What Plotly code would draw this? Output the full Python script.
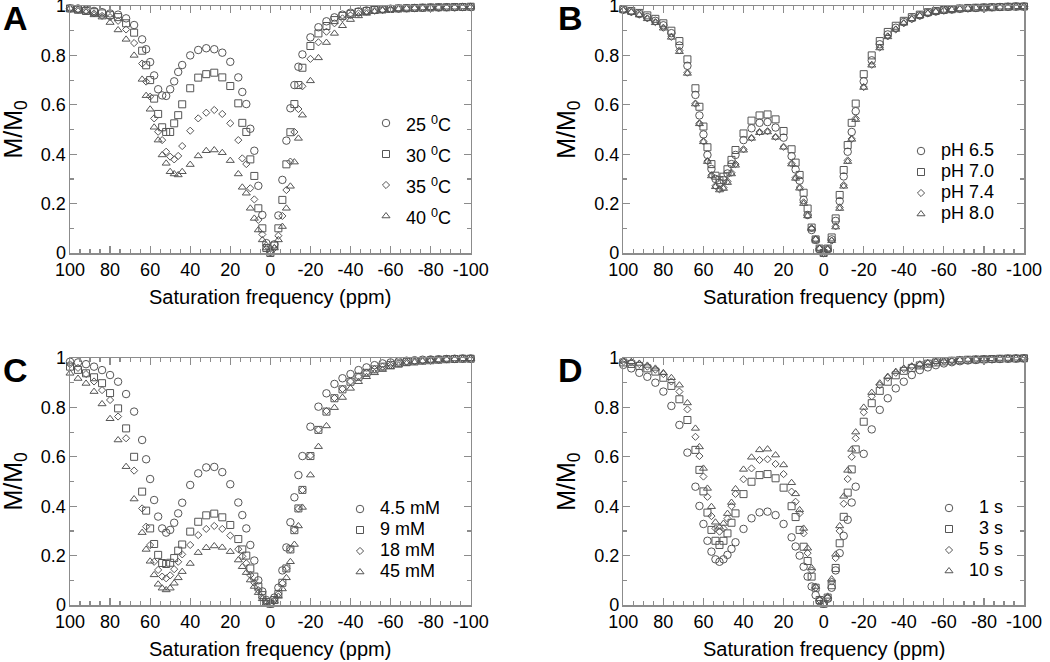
import plotly.graph_objects as go

# ---------------- data ----------------
FREQ = [100, 96, 92, 88, 84, 80, 76, 72, 68,
        64, 62, 60, 58, 56, 54, 52, 50, 48, 46, 44,
        40, 36, 32, 28, 24, 20, 16,
        14, 12, 10, 8, 6, 4, 2, 0, -2, -4, -6, -8, -10, -12, -14, -16,
        -20, -24, -28, -32, -36, -40, -44, -48, -52, -56, -60, -64, -68, -72,
        -76, -80, -84, -88, -92, -96, -100]

# Panel A: temperature
A_25C = [0.99, 0.99, 0.985, 0.98, 0.975, 0.97, 0.965, 0.95, 0.923,
         0.865, 0.825, 0.773, 0.719, 0.663, 0.638, 0.636, 0.663, 0.695, 0.733, 0.761,
         0.80, 0.822, 0.829, 0.825, 0.811, 0.774, 0.711,
         0.652, 0.603, 0.503, 0.414, 0.272, 0.154, 0.04, 0.005, 0.035, 0.152, 0.296, 0.455, 0.586, 0.68, 0.754, 0.804,
         0.873, 0.914, 0.938, 0.954, 0.965, 0.973, 0.978, 0.982, 0.985, 0.987, 0.989, 0.99, 0.991,
         0.992, 0.993, 0.994, 0.994, 0.995, 0.995, 0.996, 0.996]
A_30C = [0.99, 0.985, 0.98, 0.975, 0.97, 0.963, 0.955, 0.93, 0.892,
         0.819, 0.76, 0.70, 0.625, 0.563, 0.509, 0.49, 0.49, 0.525, 0.558, 0.602,
         0.667, 0.71, 0.724, 0.73, 0.711, 0.676, 0.606,
         0.527, 0.49, 0.379, 0.312, 0.181, 0.10, 0.02, 0.0, 0.03, 0.10, 0.215, 0.359, 0.489, 0.603, 0.68, 0.75,
         0.838, 0.889, 0.919, 0.943, 0.96, 0.968, 0.976, 0.98, 0.984, 0.986, 0.988, 0.99, 0.991,
         0.992, 0.993, 0.994, 0.995, 0.995, 0.996, 0.996, 0.997]
A_35C = [0.99, 0.985, 0.98, 0.97, 0.96, 0.955, 0.94, 0.905, 0.85,
         0.767, 0.694, 0.633, 0.545, 0.491, 0.457, 0.41, 0.39, 0.379, 0.393, 0.433,
         0.495, 0.545, 0.568, 0.579, 0.563, 0.525, 0.457,
         0.383, 0.36, 0.262, 0.217, 0.134, 0.075, 0.03, 0.005, 0.02, 0.07, 0.15, 0.255, 0.37, 0.49, 0.583, 0.675,
         0.786, 0.853, 0.896, 0.93, 0.95, 0.962, 0.97, 0.977, 0.981, 0.984, 0.987, 0.989, 0.99,
         0.991, 0.992, 0.993, 0.994, 0.995, 0.995, 0.996, 0.996]
A_40C = [0.99, 0.98, 0.975, 0.964, 0.955, 0.933, 0.903, 0.865, 0.80,
         0.703, 0.637, 0.582, 0.509, 0.457, 0.397, 0.363, 0.329, 0.320, 0.316, 0.329,
         0.358, 0.393, 0.414, 0.417, 0.406, 0.374, 0.320,
         0.266, 0.242, 0.181, 0.14, 0.093, 0.053, 0.02, 0.0, 0.02, 0.053, 0.107, 0.181, 0.27, 0.368, 0.464, 0.558,
         0.697, 0.79, 0.852, 0.889, 0.92, 0.945, 0.96, 0.97, 0.977, 0.982, 0.985, 0.988, 0.99,
         0.991, 0.992, 0.993, 0.994, 0.995, 0.995, 0.996, 0.996]

# Panel B: pH
B_PH65 = [0.985, 0.978, 0.968, 0.955, 0.94, 0.922, 0.89, 0.84, 0.758,
          0.64, 0.557, 0.48, 0.397, 0.34, 0.30, 0.284, 0.295, 0.322, 0.36, 0.397,
          0.457, 0.505, 0.527, 0.53, 0.508, 0.467, 0.392,
          0.338, 0.293, 0.215, 0.154, 0.093, 0.053, 0.015, 0.0, 0.015, 0.055, 0.13, 0.21, 0.31, 0.41, 0.49, 0.574,
          0.695, 0.78, 0.845, 0.885, 0.912, 0.935, 0.95, 0.962, 0.972, 0.978, 0.983, 0.986, 0.989,
          0.991, 0.992, 0.994, 0.995, 0.996, 0.997, 0.998, 0.998]
B_PH70 = [0.987, 0.98, 0.972, 0.962, 0.948, 0.93, 0.90, 0.858, 0.784,
          0.667, 0.592, 0.512, 0.428, 0.36, 0.313, 0.295, 0.309, 0.339, 0.377, 0.417,
          0.484, 0.536, 0.557, 0.561, 0.541, 0.494, 0.42,
          0.366, 0.316, 0.244, 0.18, 0.103, 0.055, 0.018, 0.0, 0.018, 0.063, 0.14, 0.235, 0.336, 0.437, 0.527, 0.605,
          0.724, 0.80, 0.858, 0.895, 0.92, 0.94, 0.955, 0.965, 0.975, 0.98, 0.984, 0.987, 0.99,
          0.992, 0.993, 0.994, 0.995, 0.996, 0.997, 0.998, 0.998]
B_PH74 = [0.983, 0.975, 0.965, 0.95, 0.935, 0.912, 0.875, 0.82, 0.73,
          0.605, 0.525, 0.452, 0.372, 0.315, 0.272, 0.258, 0.265, 0.29, 0.325, 0.36,
          0.42, 0.466, 0.49, 0.493, 0.47, 0.43, 0.362,
          0.305, 0.265, 0.205, 0.152, 0.10, 0.055, 0.018, 0.0, 0.015, 0.05, 0.108, 0.185, 0.275, 0.375, 0.462, 0.545,
          0.672, 0.762, 0.832, 0.877, 0.905, 0.93, 0.947, 0.96, 0.97, 0.977, 0.982, 0.985, 0.988,
          0.99, 0.992, 0.993, 0.994, 0.995, 0.996, 0.997, 0.997]
B_PH80 = [0.983, 0.975, 0.963, 0.948, 0.932, 0.91, 0.873, 0.815, 0.727,
          0.603, 0.523, 0.45, 0.37, 0.312, 0.268, 0.255, 0.261, 0.285, 0.32, 0.355,
          0.416, 0.464, 0.487, 0.49, 0.468, 0.428, 0.36,
          0.302, 0.262, 0.20, 0.15, 0.10, 0.055, 0.018, 0.0, 0.015, 0.05, 0.105, 0.18, 0.27, 0.37, 0.46, 0.54,
          0.67, 0.76, 0.83, 0.875, 0.905, 0.93, 0.947, 0.96, 0.97, 0.977, 0.982, 0.985, 0.988,
          0.99, 0.992, 0.993, 0.994, 0.995, 0.996, 0.997, 0.997]

# Panel C: concentration
C_4_5MM = [0.985, 0.982, 0.975, 0.965, 0.951, 0.931, 0.904, 0.854, 0.783,
           0.668, 0.59, 0.51, 0.425, 0.358, 0.31, 0.293, 0.304, 0.333, 0.371, 0.414,
           0.486, 0.533, 0.557, 0.559, 0.538, 0.489, 0.415,
           0.364, 0.31, 0.243, 0.18, 0.10, 0.055, 0.02, 0.005, 0.03, 0.07, 0.14, 0.233, 0.335, 0.436, 0.526, 0.603,
           0.722, 0.803, 0.857, 0.895, 0.918, 0.935, 0.951, 0.962, 0.971, 0.978, 0.982, 0.986, 0.989,
           0.991, 0.993, 0.994, 0.995, 0.996, 0.997, 0.998, 0.998]
C_9MM = [0.965, 0.952, 0.938, 0.922, 0.898, 0.858, 0.796, 0.715, 0.60,
         0.459, 0.382, 0.31, 0.247, 0.203, 0.17, 0.166, 0.171, 0.19, 0.22, 0.245,
         0.297, 0.337, 0.363, 0.37, 0.355, 0.324, 0.267,
         0.225, 0.20, 0.148, 0.115, 0.075, 0.04, 0.012, 0.005, 0.02, 0.045, 0.09, 0.148, 0.225, 0.303, 0.391, 0.466,
         0.603, 0.709, 0.783, 0.837, 0.873, 0.904, 0.924, 0.94, 0.954, 0.965, 0.972, 0.978, 0.983,
         0.986, 0.989, 0.991, 0.993, 0.995, 0.996, 0.997, 0.997]
C_18MM = [0.975, 0.96, 0.935, 0.905, 0.87, 0.83, 0.763, 0.675, 0.544,
          0.391, 0.317, 0.243, 0.175, 0.142, 0.115, 0.108, 0.12, 0.145, 0.175, 0.205,
          0.243, 0.283, 0.308, 0.32, 0.308, 0.281, 0.226,
          0.197, 0.169, 0.121, 0.09, 0.06, 0.03, 0.01, 0.003, 0.02, 0.045, 0.088, 0.148, 0.225, 0.305, 0.39, 0.466,
          0.605, 0.71, 0.785, 0.838, 0.875, 0.905, 0.925, 0.941, 0.955, 0.965, 0.972, 0.978, 0.983,
          0.986, 0.989, 0.991, 0.993, 0.995, 0.996, 0.997, 0.997]
C_45MM = [0.938, 0.917, 0.897, 0.864, 0.814, 0.754, 0.668, 0.56, 0.429,
          0.293, 0.225, 0.177, 0.122, 0.084, 0.068, 0.061, 0.068, 0.088, 0.11, 0.135,
          0.168, 0.212, 0.232, 0.239, 0.233, 0.216, 0.182,
          0.155, 0.131, 0.101, 0.075, 0.05, 0.025, 0.008, 0.003, 0.015, 0.035, 0.065, 0.11, 0.175, 0.245, 0.32, 0.395,
          0.526, 0.641, 0.725, 0.799, 0.84, 0.877, 0.904, 0.924, 0.94, 0.953, 0.963, 0.971, 0.978,
          0.983, 0.987, 0.99, 0.992, 0.994, 0.996, 0.997, 0.997]

# Panel D: saturation time
D_1S = [0.972, 0.958, 0.94, 0.924, 0.90, 0.864, 0.806, 0.729, 0.617,
        0.479, 0.401, 0.328, 0.26, 0.216, 0.185, 0.175, 0.185, 0.203, 0.227, 0.254,
        0.308, 0.351, 0.375, 0.378, 0.364, 0.328, 0.274,
        0.237, 0.20, 0.155, 0.115, 0.075, 0.04, 0.015, 0.005, 0.025, 0.07, 0.14, 0.21, 0.28, 0.345, 0.415, 0.479,
        0.612, 0.711, 0.79, 0.837, 0.877, 0.904, 0.931, 0.951, 0.962, 0.971, 0.978, 0.983, 0.987,
        0.99, 0.992, 0.994, 0.995, 0.996, 0.997, 0.998, 0.998]
D_3S = [0.982, 0.976, 0.968, 0.958, 0.945, 0.92, 0.887, 0.833, 0.749,
        0.628, 0.547, 0.46, 0.374, 0.304, 0.26, 0.243, 0.26, 0.29, 0.333, 0.371,
        0.449, 0.499, 0.526, 0.53, 0.513, 0.475, 0.40,
        0.356, 0.304, 0.236, 0.178, 0.115, 0.07, 0.02, 0.005, 0.03, 0.08, 0.15, 0.25, 0.357, 0.455, 0.549, 0.63,
        0.742, 0.817, 0.867, 0.904, 0.93, 0.948, 0.96, 0.97, 0.977, 0.982, 0.986, 0.989, 0.991,
        0.993, 0.994, 0.995, 0.996, 0.997, 0.998, 0.998, 0.999]
D_5S = [0.985, 0.982, 0.975, 0.965, 0.953, 0.935, 0.905, 0.864, 0.792,
        0.681, 0.603, 0.52, 0.438, 0.36, 0.31, 0.297, 0.31, 0.35, 0.40, 0.45,
        0.509, 0.553, 0.587, 0.59, 0.571, 0.53, 0.459,
        0.418, 0.371, 0.29, 0.21, 0.14, 0.07, 0.02, 0.005, 0.03, 0.095, 0.19, 0.30, 0.41, 0.51, 0.60, 0.675,
        0.78, 0.845, 0.89, 0.92, 0.94, 0.955, 0.965, 0.973, 0.979, 0.984, 0.987, 0.99, 0.992,
        0.993, 0.995, 0.996, 0.997, 0.997, 0.998, 0.998, 0.999]
D_10S = [0.99, 0.985, 0.978, 0.97, 0.958, 0.94, 0.92, 0.89, 0.818,
         0.715, 0.64, 0.553, 0.472, 0.398, 0.335, 0.315, 0.33, 0.37, 0.415, 0.47,
         0.549, 0.598, 0.628, 0.631, 0.607, 0.567, 0.495,
         0.45, 0.385, 0.31, 0.23, 0.15, 0.075, 0.025, 0.005, 0.035, 0.105, 0.205, 0.32, 0.44, 0.545, 0.63, 0.70,
         0.80, 0.86, 0.898, 0.925, 0.945, 0.958, 0.967, 0.975, 0.98, 0.985, 0.988, 0.99, 0.992,
         0.994, 0.995, 0.996, 0.997, 0.998, 0.998, 0.999, 0.999]

TEMP_LABELS = ["25 <sup>0</sup>C", "30 <sup>0</sup>C", "35 <sup>0</sup>C", "40 <sup>0</sup>C"]
PH_LABELS = ["pH 6.5", "pH 7.0", "pH 7.4", "pH 8.0"]
CONC_LABELS = ["4.5 mM", "9 mM", "18 mM", "45 mM"]
TIME_LABELS = ["\u20071 s", "\u20073 s", "\u20075 s", "10 s"]

X_TICKS = [100, 80, 60, 40, 20, 0, -20, -40, -60, -80, -100]
X_TICK_TEXT = ["100", "80", "60", "40", "20", "0", "-20", "-40", "-60", "-80", "-100"]
Y_TICKS = [0, 0.2, 0.4, 0.6, 0.8, 1]
Y_TICK_TEXT = ["0", "0.2", "0.4", "0.6", "0.8", "1"]
PANEL_LETTERS = ["A", "B", "C", "D"]
X_TITLE = "Saturation frequency (ppm)"
Y_TITLE = "M/M<sub>0</sub>"

# ---------------- style / layout ----------------
W, H = 1050, 662
FONT = "Liberation Sans, Arial, Helvetica, sans-serif"
MARK = "#555555"
AXC = "#8c8c8c"
SYMBOLS = ["circle-open", "square-open", "diamond-open", "triangle-up-open"]
SIZES = [7.5, 7, 5.5, 7]

def px_x(p):
    return p / W

def px_y(p):
    return 1 - p / H

X_DOM = [[px_x(70), px_x(470.7)], [px_x(623.3), px_x(1024)]]
Y_DOM = [[px_y(253), px_y(6)], [px_y(605), px_y(358)]]

panels = [
    dict(series=[A_25C, A_30C, A_35C, A_40C], labels=TEMP_LABELS, col=0, row=0,
         leg=dict(sym_x=386, top_y=123, gap=31)),
    dict(series=[B_PH65, B_PH70, B_PH74, B_PH80], labels=PH_LABELS, col=1, row=0,
         leg=dict(sym_x=921, top_y=151, gap=21)),
    dict(series=[C_4_5MM, C_9MM, C_18MM, C_45MM], labels=CONC_LABELS, col=0, row=1,
         leg=dict(sym_x=360, top_y=509, gap=21)),
    dict(series=[D_1S, D_3S, D_5S, D_10S], labels=TIME_LABELS, col=1, row=1,
         leg=dict(sym_x=949, top_y=508, gap=21)),
]

fig = go.Figure()
layout = dict(template="none", width=W, height=H, margin=dict(l=0, r=0, t=0, b=0, pad=0),
              paper_bgcolor="white", plot_bgcolor="white",
              font=dict(family=FONT, color="black", size=18),
              showlegend=True)
annotations = []

for i, p in enumerate(panels):
    n = "" if i == 0 else str(i + 1)
    xa, ya = "x" + n, "y" + n
    legname = "legend" + n
    for k, (vals, lab) in enumerate(zip(p["series"], p["labels"])):
        fig.add_trace(go.Scatter(
            x=FREQ, y=vals, mode="markers", xaxis=xa, yaxis=ya,
            name='<span style="font-size:18px">' + lab + "</span>",
            legend=legname, cliponaxis=False,
            marker=dict(symbol=SYMBOLS[k], size=SIZES[k], color=MARK,
                        line=dict(color=MARK, width=1)),
            hoverinfo="skip"))
    common = dict(showline=True, linecolor=AXC, linewidth=1.5, mirror="ticks",
                  ticks="inside", tickcolor=AXC, tickwidth=1.2, ticklen=7,
                  showgrid=False, zeroline=False, automargin=False,
                  ticklabeloverflow="allow",
                  tickfont=dict(family=FONT, size=18, color="black"))
    layout["xaxis" + n] = dict(common, domain=X_DOM[p["col"]], anchor=ya,
                               range=[100, -100], tickmode="array",
                               tickvals=X_TICKS, ticktext=X_TICK_TEXT,
                               minor=dict(tickmode="linear", tick0=0, dtick=5,
                                          ticks="inside", ticklen=4,
                                          tickcolor=AXC, tickwidth=1.2))
    layout["yaxis" + n] = dict(common, domain=Y_DOM[p["row"]], anchor=xa,
                               range=[0, 1], tickmode="array",
                               tickvals=Y_TICKS, ticktext=Y_TICK_TEXT,
                               ticklabelstandoff=-1,
                               minor=dict(tickmode="linear", tick0=0, dtick=0.1,
                                          ticks="inside", ticklen=4,
                                          tickcolor=AXC, tickwidth=1.2))
    lg = p["leg"]
    fs = (lg["gap"] - 3) / 1.3
    top = lg["top_y"] - lg["gap"] / 2 - 5
    layout[legname] = dict(x=px_x(lg["sym_x"] - 20), y=px_y(top),
                           xanchor="left", yanchor="top",
                           bgcolor="rgba(0,0,0,0)", borderwidth=0,
                           font=dict(family=FONT, size=fs, color="black"),
                           tracegroupgap=0, itemclick=False)
    xl = 70 if p["col"] == 0 else 623.3
    xr = 470.7 if p["col"] == 0 else 1024
    yt = 6 if p["row"] == 0 else 358
    yb = 253 if p["row"] == 0 else 605
    letter_x = 15 if p["col"] == 0 else 570
    annotations.append(dict(text="<b>" + PANEL_LETTERS[i] + "</b>", xref="paper", yref="paper",
                            x=px_x(letter_x), y=px_y(yt + 12), xanchor="center", yanchor="middle",
                            showarrow=False, font=dict(family=FONT, size=34, color="black")))
    annotations.append(dict(text=Y_TITLE, xref="paper", yref="paper", textangle=-90,
                            x=px_x(xl - 56), y=px_y((yt + yb) / 2), xanchor="center", yanchor="middle",
                            showarrow=False, font=dict(family=FONT, size=25, color="black")))
    annotations.append(dict(text=X_TITLE, xref="paper", yref="paper",
                            x=px_x((xl + xr) / 2), y=px_y(yb + 44), xanchor="center", yanchor="middle",
                            showarrow=False, font=dict(family=FONT, size=20, color="black")))

layout["annotations"] = annotations
fig.update_layout(**layout)
fig.write_html("out.html", config={"displayModeBar": False, "staticPlot": True},
               post_script="document.body.style.margin='0';document.body.style.overflow='hidden';")
